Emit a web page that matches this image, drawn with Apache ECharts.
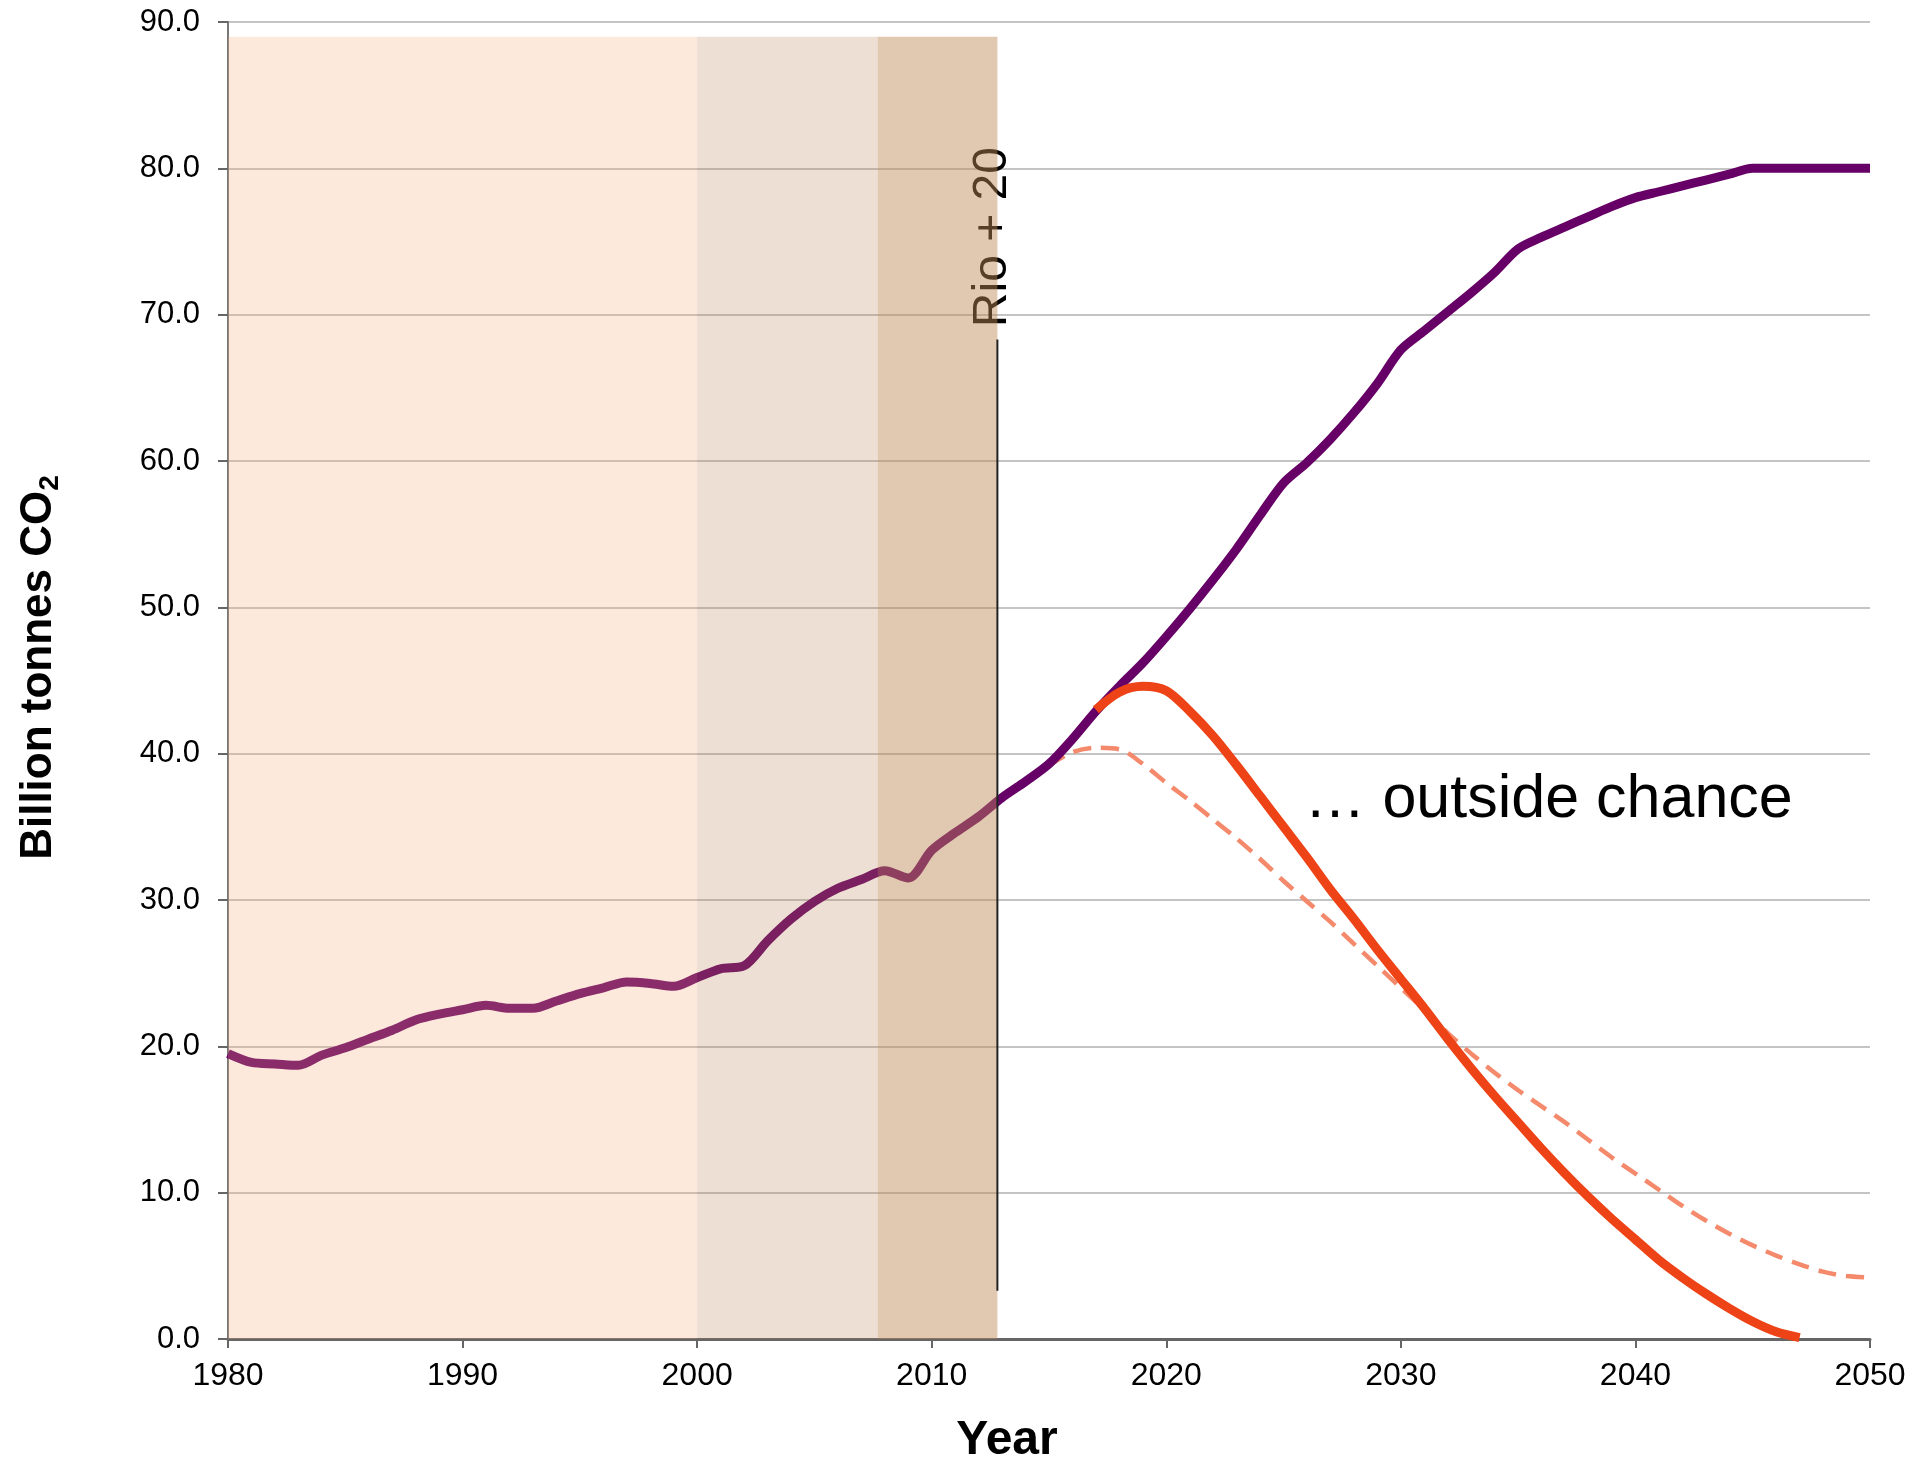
<!DOCTYPE html>
<html>
<head>
<meta charset="utf-8">
<title>CO2 pathways</title>
<script src="https://cdn.jsdelivr.net/npm/echarts@6/dist/echarts.min.js"></script>
<style>
    html, body { margin: 0; padding: 0; background: #fff; }
    #chart { width: 1919px; height: 1461px; }
</style>
</head>
<body>
<div id="chart"></div>
<script>
    'use strict';

    // years on the x axis
    var years = [
        1980, 1981, 1982, 1983, 1984, 1985, 1986, 1987, 1988, 1989,
        1990, 1991, 1992, 1993, 1994, 1995, 1996, 1997, 1998, 1999,
        2000, 2001, 2002, 2003, 2004, 2005, 2006, 2007, 2008, 2009,
        2010, 2011, 2012, 2013, 2014, 2015, 2016, 2017, 2018, 2019,
        2020, 2021, 2022, 2023, 2024, 2025, 2026, 2027, 2028, 2029,
        2030, 2031, 2032, 2033, 2034, 2035, 2036, 2037, 2038, 2039,
        2040, 2041, 2042, 2043, 2044, 2045, 2046, 2047, 2048, 2049,
        2050
    ];

    // emissions so far + business as usual (purple)
    var businessAsUsual = [
        19.5, 18.9, 18.8, 18.7, 19.4, 19.9, 20.5, 21.1, 21.8, 22.2,
        22.5, 22.8, 22.6, 22.6, 23.1, 23.6, 24.0, 24.4, 24.3, 24.1,
        24.7, 25.3, 25.5, 27.2, 28.7, 29.9, 30.8, 31.4, 32.0, 31.5,
        33.4, 34.6, 35.7, 37.0, 38.1, 39.3, 41.0, 42.9, 44.6, 46.2,
        48.0, 49.9, 51.9, 54.0, 56.3, 58.5, 59.9, 61.5, 63.3, 65.3,
        67.6, 68.9, 70.2, 71.5, 72.9, 74.5, 75.3, 76.0, 76.7, 77.4,
        78.0, 78.4, 78.8, 79.2, 79.6, 80.0, 80.0, 80.0, 80.0, 80.0,
        80.0
    ];

    // "outside chance" pathway (solid red)
    var outsideChance = [
        null, null, null, null, null, null, null, null, null, null,
        null, null, null, null, null, null, null, null, null, null,
        null, null, null, null, null, null, null, null, null, null,
        null, null, null, null, null, null, null, 43.0, 44.2, 44.6,
        44.3, 42.9, 41.2, 39.2, 37.1, 35.0, 32.9, 30.7, 28.7, 26.6,
        24.6, 22.6, 20.5, 18.5, 16.6, 14.8, 13.0, 11.3, 9.7, 8.2,
        6.8, 5.4, 4.2, 3.1, 2.1, 1.2, 0.5, 0.1, null, null,
        null
    ];

    // earlier pathway (dashed)
    var earlierPathway = [
        null, null, null, null, null, null, null, null, null, null,
        null, null, null, null, null, null, null, null, null, null,
        null, null, null, null, null, null, null, null, null, null,
        null, null, null, null, null, 39.2, 40.1, 40.4, 40.3, 39.3,
        38.0, 36.8, 35.5, 34.2, 32.8, 31.3, 29.9, 28.5, 27.0, 25.5,
        24.0, 22.5, 20.9, 19.5, 18.2, 17.0, 15.9, 14.8, 13.6, 12.4,
        11.3, 10.2, 9.1, 8.1, 7.2, 6.4, 5.7, 5.1, 4.6, 4.3,
        4.2
    ];

    // shaded periods [from, to]
    var periods = [[1980, 2000], [2000, 2007.7], [2007.7, 2012.8]];
    var periodColors = ['rgba(242,171,121,0.26)', 'rgba(182,127,78,0.25)', 'rgba(189,135,85,0.46)'];
    var shadeTop = 89;

    // Rio + 20 marker
    var rioYear = 2012.8;
    var rioLine = [3.3, 68.3];
    var rioLabel = [2012.6, 75.3];
    var chanceLabel = [2036.3, 36.8];

    var FONT = '"Liberation Sans", Arial, sans-serif';

    function pairs(vals) {
        var out = [];
        for (var i = 0; i < years.length; i++) {
            out.push([years[i], vals[i]]);
        }
        return out;
    }

    var areas = [];
    for (var i = 0; i < periods.length; i++) {
        areas.push([
            { xAxis: periods[i][0], yAxis: 0, itemStyle: { color: periodColors[i] } },
            { xAxis: periods[i][1], yAxis: shadeTop }
        ]);
    }

    var chart = echarts.init(document.getElementById('chart'));
    chart.setOption({
        animation: false,
        backgroundColor: '#fff',
        textStyle: { fontFamily: FONT },
        grid: { left: 228, right: 49, top: 22, bottom: 122, containLabel: false, outerBoundsMode: 'none' },
        xAxis: {
            type: 'value',
            min: 1980,
            max: 2050,
            interval: 10,
            name: '{y|Year}',
            nameLocation: 'middle',
            nameGap: 78,
            nameTextStyle: {
                rich: {
                    y: { fontFamily: FONT, fontSize: 48, fontWeight: 'bold', color: '#000', padding: [0, 84, 0, 0] }
                }
            },
            axisLine: { lineStyle: { color: '#666', width: 3 } },
            axisTick: { length: 9, lineStyle: { color: '#666', width: 2 } },
            axisLabel: {
                fontFamily: FONT, fontSize: 32, color: '#000', margin: 21,
                formatter: function (v) { return String(v); }
            },
            splitLine: { show: false }
        },
        yAxis: {
            type: 'value',
            min: 0,
            max: 90,
            interval: 10,
            name: '{b|Billion tonnes CO}{s|2}',
            nameLocation: 'middle',
            nameGap: 164,
            nameRotate: 90,
            nameTextStyle: {
                rich: {
                    b: { fontFamily: FONT, fontSize: 44, fontWeight: 'bold', color: '#000', padding: [0, 0, 0, 26] },
                    s: { fontFamily: FONT, fontSize: 28, fontWeight: 'bold', color: '#000', padding: [22, 0, 0, 0] }
                }
            },
            axisLine: { show: true, lineStyle: { color: '#777', width: 2 } },
            axisTick: { show: true, length: 10, lineStyle: { color: '#666', width: 2 } },
            axisLabel: {
                fontFamily: FONT, fontSize: 31, color: '#000', margin: 28,
                formatter: function (v) { return v.toFixed(1); }
            },
            splitLine: { lineStyle: { color: '#b0b0b0', width: 1.5 } }
        },
        series: [
            {
                name: 'rio label',
                type: 'scatter',
                z: 1,
                silent: true,
                symbolSize: 1,
                itemStyle: { color: 'rgba(0,0,0,0)', opacity: 1 },
                data: [rioLabel],
                label: {
                    show: true,
                    position: 'inside',
                    rotate: 90,
                    formatter: 'Rio + 20',
                    fontFamily: FONT,
                    fontSize: 48,
                    color: '#000'
                }
            },
            {
                name: 'earlier',
                type: 'line',
                z: 2,
                smooth: 0.3,
                showSymbol: false,
                data: pairs(earlierPathway),
                lineStyle: { color: '#F4896B', width: 4.5, type: [18, 10] }
            },
            {
                name: 'business as usual',
                type: 'line',
                z: 2,
                smooth: 0.3,
                showSymbol: false,
                data: pairs(businessAsUsual),
                lineStyle: { color: '#660066', width: 9 }
            },
            {
                name: 'outside chance',
                type: 'line',
                z: 2,
                smooth: 0.3,
                showSymbol: false,
                data: pairs(outsideChance),
                lineStyle: { color: '#EE4316', width: 9 }
            },
            {
                name: 'periods',
                type: 'line',
                z: 10,
                data: [],
                markArea: { silent: true, z: 10, data: areas }
            },
            {
                name: 'rio line',
                type: 'line',
                z: 12,
                silent: true,
                showSymbol: false,
                data: [[rioYear, rioLine[0]], [rioYear, rioLine[1]]],
                lineStyle: { color: '#222', width: 2 }
            },
            {
                name: 'chance label',
                type: 'scatter',
                z: 12,
                silent: true,
                symbolSize: 1,
                itemStyle: { color: 'rgba(0,0,0,0)', opacity: 1 },
                data: [chanceLabel],
                label: {
                    show: true,
                    position: 'inside',
                    formatter: '\u2026 outside chance',
                    fontFamily: FONT,
                    fontSize: 61,
                    color: '#000'
                }
            }
        ]
    });
</script>
</body>
</html>
